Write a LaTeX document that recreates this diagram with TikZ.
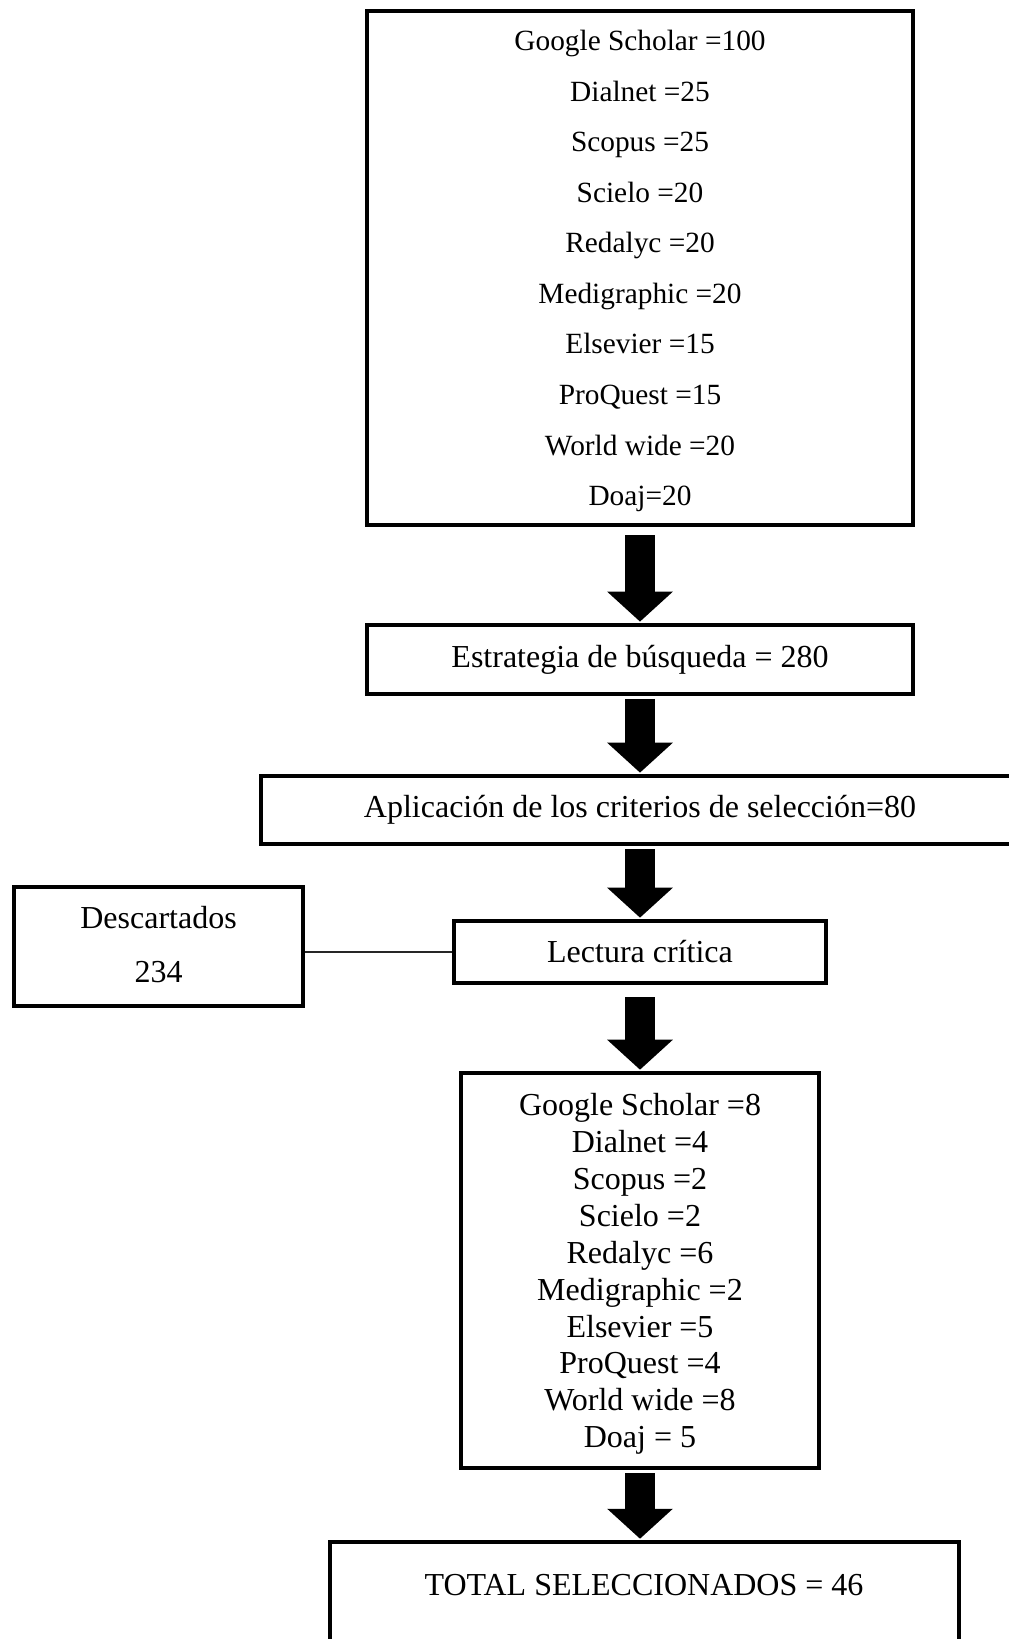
\documentclass[tikz,border=0pt]{standalone}
\usepackage{fontspec}
\setmainfont{Liberation Serif}
\usetikzlibrary{arrows.meta, positioning}

\begin{document}
\begin{tikzpicture}[
    x=0.75pt,
    y=-0.75pt,
    on grid,
    box/.style={draw, line width=3pt, inner sep=0pt, align=center,
        font=\fontsize{24}{27.7}\selectfont},
    fat/.style={line width=22.5pt, -{Triangle[length=22.5pt, width=48pt]},
        shorten <=2.25pt, shorten >=1pt},
    link/.style={line width=1.2pt, black!85},
]
    \useasboundingbox (0,0) rectangle (1008,1639);

    \node[box, minimum width=409.5pt, minimum height=385.5pt, text depth=0pt,
          font=\fontsize{22}{37.9}\selectfont]                  (top) at (640,268)
        {Google Scholar =100\\ Dialnet =25\\ Scopus =25\\ Scielo =20\\ Redalyc =20\\
         Medigraphic =20\\ Elsevier =15\\ ProQuest =15\\ World wide =20\\ Doaj=20};
    \node[box, minimum width=409.5pt, minimum height=51.75pt,
          below=293.6pt of top]                                 (est)
        {Estrategia de búsqueda = 280};
    \node[box, minimum width=568.5pt, minimum height=51pt,
          below=112.9pt of est]                                 (apl)
        {Aplicación de los criterios de selección=80};
    \node[box, minimum width=279pt, minimum height=46.5pt,
          below=106.5pt of apl]                                 (lec)
        {Lectura crítica};
    \node[box, minimum width=216.75pt, minimum height=89.25pt,
          left=361.1pt of lec, yshift=4pt, text depth=4pt,
          font=\fontsize{24}{40.5}\selectfont]                  (desc)
        {Descartados\\ 234};
    \node[box, minimum width=268.5pt, minimum height=296.25pt,
          below=238.9pt of lec, text depth=0pt]                 (low)
        {Google Scholar =8\\ Dialnet =4\\ Scopus =2\\ Scielo =2\\ Redalyc =6\\
         Medigraphic =2\\ Elsevier =5\\ ProQuest =4\\ World wide =8\\ Doaj = 5};
    \node[box, minimum width=471.75pt, minimum height=92.1pt,
          below=249.7pt of low, xshift=3pt, text depth=27.6pt]  (total)
        {TOTAL SELECCIONADOS = 46};

    % flechas
    \draw[fat, shorten <=6pt] (top.south) -- (est.north);
    \draw[fat]                (est.south) -- (apl.north);
    \draw[fat]                (apl.south) -- (lec.north);
    \draw[fat, shorten <=9pt] (lec.south) -- (low.north);
    \draw[fat]                (low.south) -- (low.south |- total.north);

    \draw[link] (lec.west) -- (lec.west -| desc.east);
\end{tikzpicture}
\end{document}
